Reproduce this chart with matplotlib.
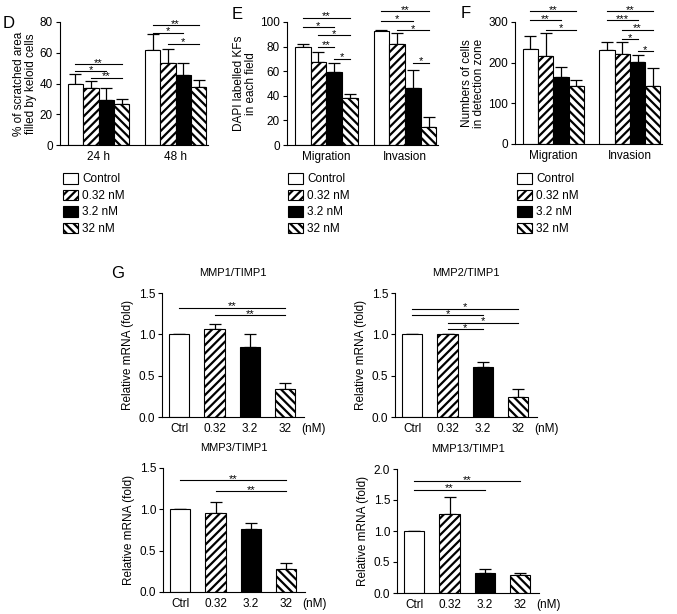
import matplotlib
matplotlib.use('Agg')
import matplotlib.pyplot as plt
from matplotlib.patches import Patch
import numpy as np

plt.rcParams['font.family'] = ['Liberation Sans', 'DejaVu Sans']
plt.rcParams['hatch.linewidth'] = 1.6
plt.rcParams['axes.linewidth'] = 0.8

# treatment groups
conc_labels = ['Control', '0.32 nM', '3.2 nM', '32 nM']
g_ticks = ['Ctrl', '0.32', '3.2', '32']

# panel D - wound healing
d_groups = ['24 h', '48 h']
d_mean = [[39.6, 36.8, 29.2, 26.4], [62.0, 53.4, 45.8, 37.8]]
d_err = [[6.9, 4.7, 7.6, 3.4], [10.0, 9.3, 7.6, 4.4]]
d_sig = [(0, 0, 3, 52.5, '**'), (0, 0, 2, 48.0, '*'), (0, 1, 3, 43.7, '**'),
         (1, 0, 3, 77.8, '**'), (1, 0, 2, 73.0, '*'), (1, 1, 3, 65.7, '*')]

# panel E - DAPI labelled KFs
e_groups = ['Migration', 'Invasion']
e_mean = [[80.0, 67.5, 59.0, 38.5], [92.5, 82.5, 46.5, 14.5]]
e_err = [[2.0, 8.5, 8.0, 3.0], [1.0, 8.5, 14.5, 8.5]]
e_sig = [(0, 0, 3, 103.5, '**'), (0, 0, 2, 95.7, '*'), (0, 1, 3, 89.2, '*'),
         (0, 1, 2, 79.7, '**'), (0, 2, 3, 70.0, '*'),
         (1, 0, 3, 108.6, '**'), (1, 0, 2, 101.0, '*'), (1, 1, 3, 93.2, '*'),
         (1, 2, 3, 66.8, '*')]

# panel F - cells in detection zone
f_groups = ['Migration', 'Invasion']
f_mean = [[233, 217, 165, 142], [230, 222, 201, 143]]
f_err = [[32, 57, 25, 15], [21, 29, 19, 43]]
f_sig = [(0, 0, 3, 326, '**'), (0, 0, 2, 304, '**'), (0, 1, 3, 281, '*'),
         (1, 0, 3, 326, '**'), (1, 0, 2, 304, '***'), (1, 1, 3, 281, '**'),
         (1, 1, 2, 257, '*'), (1, 2, 3, 228, '*')]

# panel G - relative mRNA
mmp1_mean = [1.0, 1.07, 0.85, 0.34]
mmp1_err = [0.0, 0.06, 0.16, 0.07]
mmp1_sig = [(0, 3, 1.32, '**'), (1, 3, 1.23, '**')]

mmp2_mean = [1.0, 1.0, 0.605, 0.24]
mmp2_err = [0.0, 0.005, 0.055, 0.095]
mmp2_sig = [(0, 3, 1.31, '*'), (0, 2, 1.23, '*'), (1, 3, 1.14, '*'), (1, 2, 1.06, '*')]

mmp3_mean = [1.0, 0.96, 0.76, 0.28]
mmp3_err = [0.0, 0.13, 0.07, 0.07]
mmp3_sig = [(0, 3, 1.35, '**'), (1, 3, 1.22, '**')]

mmp13_mean = [1.0, 1.28, 0.33, 0.295]
mmp13_err = [0.0, 0.27, 0.06, 0.025]
mmp13_sig = [(0, 3, 1.80, '**'), (0, 2, 1.66, '**')]

faces = ['white', 'white', 'black', 'white']
hatches = ['', '////', '', '\\\\\\\\']

W, H = 677, 614
fig = plt.figure(figsize=(W / 100, H / 100), dpi=100)


def px_axes(left, top, right, bottom):
    return fig.add_axes([left / W, 1 - bottom / H, (right - left) / W, (bottom - top) / H])


def style(ax):
    ax.spines['top'].set_visible(False)
    ax.spines['right'].set_visible(False)
    ax.tick_params(axis='y', direction='out', length=3, width=0.8, labelsize=8.5, pad=2)
    ax.tick_params(axis='x', length=0, labelsize=8.5, pad=4)


def sig_line(ax, x1, x2, y, label):
    ax.plot([x1, x2], [y, y], color='black', lw=0.8, clip_on=False)
    ax.annotate(label, xy=((x1 + x2) / 2, y), xytext=(0, -2.5), textcoords='offset points',
                ha='center', va='bottom', fontsize=8, annotation_clip=False)


def grouped(ax, groups, means, errs, sigs, ymax, step, ylabel):
    bw = 0.2
    for g in range(len(groups)):
        for i in range(4):
            x = g + (i - 1.5) * bw
            ax.bar(x, means[g][i], bw, color=faces[i], edgecolor='black', hatch=hatches[i],
                   linewidth=0.8, zorder=2)
            ax.errorbar(x, means[g][i], yerr=[[0], [errs[g][i]]], fmt='none', ecolor='black',
                        elinewidth=0.9, capsize=4.5, capthick=0.9, zorder=1)
    for g, i, j, y, lab in sigs:
        sig_line(ax, g + (i - 1.5) * bw, g + (j - 1.5) * bw, y, lab)
    ax.set_xlim(-0.5, 1.42)
    ax.set_ylim(0, ymax)
    ax.set_yticks(np.arange(0, ymax + 1, step))
    ax.set_xticks(range(len(groups)))
    ax.set_xticklabels(groups)
    ax.set_ylabel(ylabel, fontsize=8.5, linespacing=1.05, labelpad=2)
    style(ax)


def legend_at(x, y):
    handles = [Patch(facecolor=faces[i], edgecolor='black', hatch=hatches[i], linewidth=0.8)
               for i in range(4)]
    fig.legend(handles, conc_labels, loc='upper left', bbox_to_anchor=(x / W, 1 - y / H),
               frameon=False, fontsize=8.5, handlelength=1.3, handleheight=1.0,
               handletextpad=0.3, labelspacing=0.36, borderpad=0, borderaxespad=0)


def mrna(ax, means, errs, sigs, ymax, title):
    xs = np.arange(4)
    ax.bar(xs, means, 0.57, color=faces, edgecolor='black', hatch=hatches, linewidth=0.8, zorder=2)
    ax.errorbar(xs, means, yerr=[np.zeros(4), errs], fmt='none', ecolor='black',
                elinewidth=0.9, capsize=4.5, capthick=0.9, zorder=1)
    for i, j, y, lab in sigs:
        sig_line(ax, i, j, y, lab)
    ax.set_xlim(-0.49, 3.54)
    ax.set_ylim(0, ymax)
    ax.set_yticks(np.arange(0, ymax + 0.01, 0.5))
    ax.set_yticklabels(['%.1f' % v for v in np.arange(0, ymax + 0.01, 0.5)])
    ax.set_xticks(xs)
    ax.set_xticklabels(g_ticks)
    ax.set_ylabel('Relative mRNA (fold)', fontsize=8.5, labelpad=3)
    ax.annotate('(nM)', xy=(3.8, 0), xycoords=('data', 'axes fraction'), xytext=(0, -4),
                textcoords='offset points', ha='center', va='top', fontsize=8.5,
                annotation_clip=False)
    style(ax)
    ax.set_title(title, fontsize=8, pad=12)


axD = px_axes(60, 22, 208, 145)
grouped(axD, d_groups, d_mean, d_err, d_sig, 80, 20,
        '% of scratched area\nfilled by keloid cells')
axE = px_axes(287, 22, 438, 145)
grouped(axE, e_groups, e_mean, e_err, e_sig, 100, 20,
        'DAPI labelled KFs\nin each field')
axF = px_axes(515, 22, 662, 144)
grouped(axF, f_groups, f_mean, f_err, f_sig, 300, 100,
        'Numbers of cells\nin detection zone')

legend_at(63, 173)
legend_at(288, 173)
legend_at(517, 173)

ax1 = px_axes(162, 293, 304, 417)
mrna(ax1, mmp1_mean, mmp1_err, mmp1_sig, 1.5, 'MMP1/TIMP1')
ax2 = px_axes(395, 293, 537, 417)
mrna(ax2, mmp2_mean, mmp2_err, mmp2_sig, 1.5, 'MMP2/TIMP1')
ax3 = px_axes(163, 468, 305, 592)
mrna(ax3, mmp3_mean, mmp3_err, mmp3_sig, 1.5, 'MMP3/TIMP1')
ax4 = px_axes(397, 469, 539, 593)
mrna(ax4, mmp13_mean, mmp13_err, mmp13_sig, 2.0, 'MMP13/TIMP1')

fig.text(3 / W, 1 - 16 / H, 'D', fontsize=12, va='top')
fig.text(232 / W, 1 - 7 / H, 'E', fontsize=12, va='top')
fig.text(461 / W, 1 - 6 / H, 'F', fontsize=12, va='top')
fig.text(111 / W, 1 - 266 / H, 'G', fontsize=12, va='top')

fig.savefig('out.png', dpi=100)
